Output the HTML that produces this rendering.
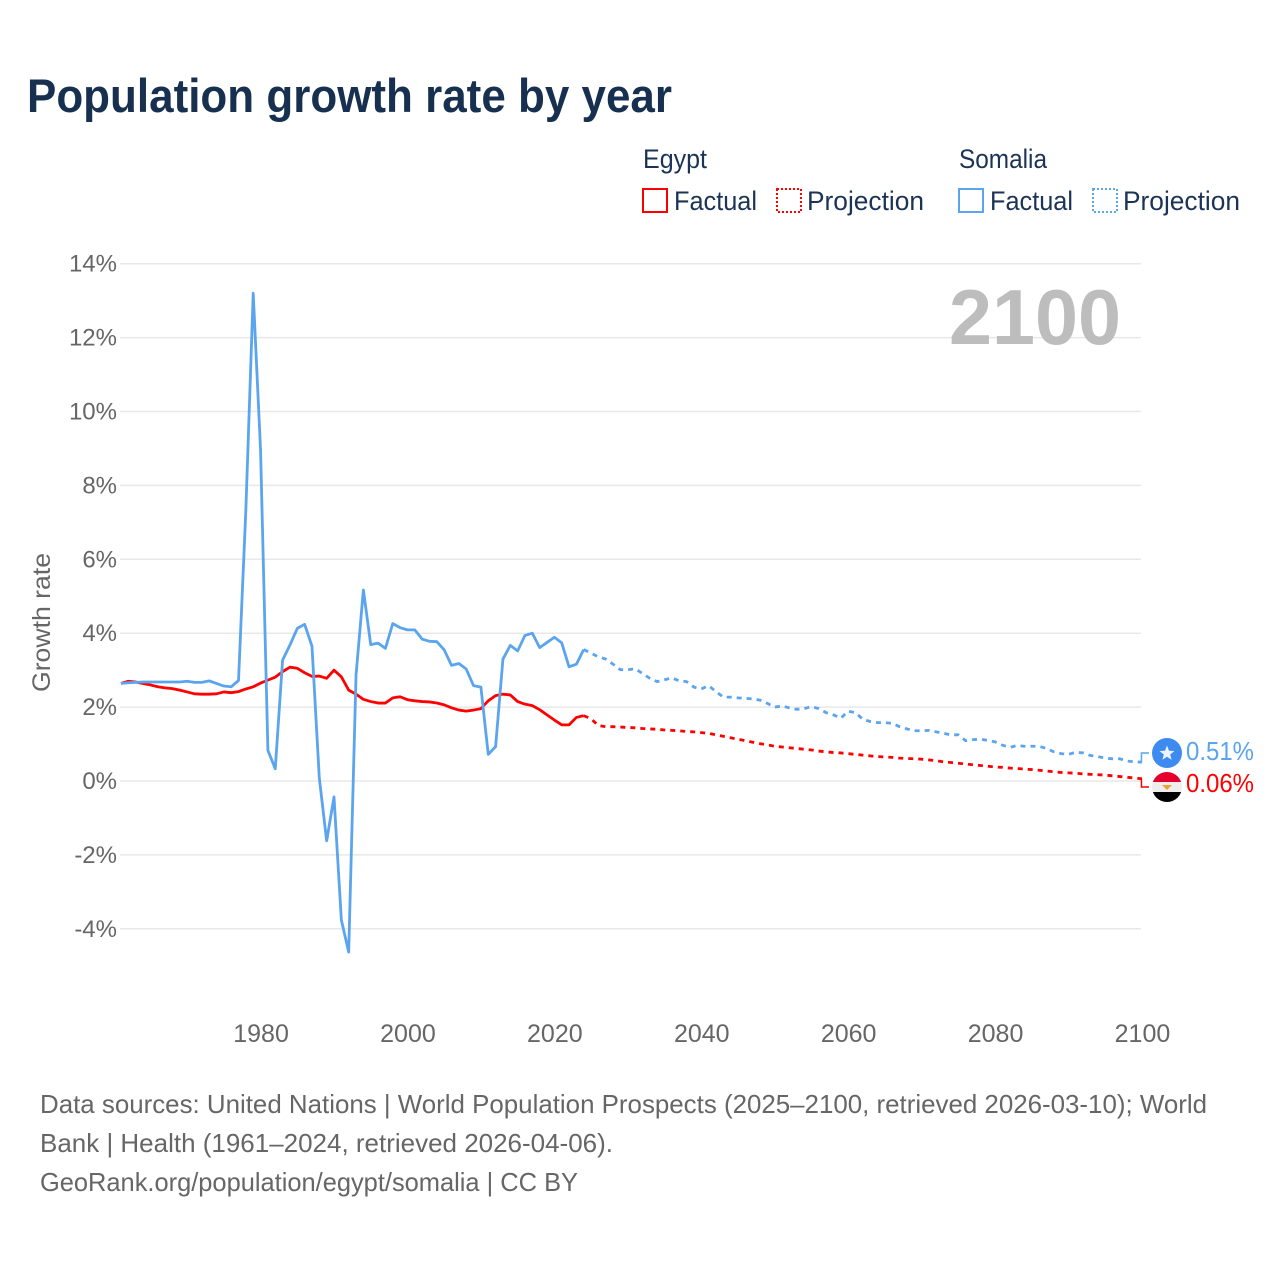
<!DOCTYPE html>
<html lang="en">
<head>
<meta charset="utf-8">
<title>Population growth rate by year</title>
<style>
html,body{margin:0;padding:0;background:#fff;}
svg{display:block;font-family:"Liberation Sans",sans-serif;}
</style>
</head>
<body>
<svg id="chart" xmlns="http://www.w3.org/2000/svg" width="1280" height="1280" viewBox="0 0 1280 1280">
  <rect width="1280" height="1280" fill="#fff"/>
  <text x="27" y="112" font-size="47" font-weight="700" fill="#17304f" textLength="645" lengthAdjust="spacingAndGlyphs">Population growth rate by year</text>

  <g font-size="27" fill="#1b3355">
    <text x="643" y="168" textLength="64" lengthAdjust="spacingAndGlyphs">Egypt</text>
    <text x="959" y="168" textLength="88" lengthAdjust="spacingAndGlyphs">Somalia</text>
    <g>
      <rect x="643" y="189" width="24" height="23" fill="none" stroke="#ff0000" stroke-width="2"/>
      <text x="674" y="210" textLength="83" lengthAdjust="spacingAndGlyphs">Factual</text>
    </g>
    <g>
      <rect x="777" y="189" width="24" height="23" fill="none" stroke="#ff0000" stroke-width="2" stroke-dasharray="2 2"/>
      <text x="807" y="210" textLength="117" lengthAdjust="spacingAndGlyphs">Projection</text>
    </g>
    <g>
      <rect x="959" y="189" width="24" height="23" fill="none" stroke="#5ba4ee" stroke-width="2"/>
      <text x="990" y="210" textLength="83" lengthAdjust="spacingAndGlyphs">Factual</text>
    </g>
    <g>
      <rect x="1093" y="189" width="24" height="23" fill="none" stroke="#5ba4ee" stroke-width="2" stroke-dasharray="2 2"/>
      <text x="1123" y="210" textLength="117" lengthAdjust="spacingAndGlyphs">Projection</text>
    </g>
  </g>

  <g id="grid"></g>
  <g id="yticks" font-size="24" fill="#666"></g>
  <g id="xticks" font-size="25" fill="#666"></g>
  <text transform="translate(50,692) rotate(-90)" font-size="25" fill="#666" textLength="139" lengthAdjust="spacingAndGlyphs">Growth rate</text>

  <text x="949" y="344" font-size="78" font-weight="700" fill="#bdbdbd" textLength="172" lengthAdjust="spacingAndGlyphs">2100</text>

  <g id="series"></g>

  <g>
    <path id="conn-somalia" fill="none" stroke="#5ba4ee" stroke-width="1.5"/>
    <path id="conn-egypt" fill="none" stroke="#ff0000" stroke-width="1.5"/>
    <g>
      <circle cx="1167" cy="753" r="15" fill="#3d8bf0"/>
      <polygon points="1167,745.5 1169,750.7 1174.5,751 1170.2,754.5 1171.6,759.8 1167,756.8 1162.4,759.8 1163.8,754.5 1159.5,751 1165,750.7" fill="#fff" fill-opacity="0.9"/>
    </g>
    <g>
      <clipPath id="egypt-clip"><circle cx="1167" cy="787" r="15"/></clipPath>
      <g clip-path="url(#egypt-clip)">
        <rect x="1152" y="772" width="30" height="10" fill="#e4002b"/>
        <rect x="1152" y="782" width="30" height="10" fill="#eeeeee"/>
        <rect x="1152" y="792" width="30" height="10" fill="#000"/>
        <polygon points="1162,785 1172,785 1167,790" fill="#f0a030"/>
      </g>
    </g>
    <text x="1186" y="760" font-size="26" fill="#5ba4ee" textLength="68" lengthAdjust="spacingAndGlyphs">0.51%</text>
    <text x="1186" y="792" font-size="26" fill="#ff0000" textLength="68" lengthAdjust="spacingAndGlyphs">0.06%</text>
  </g>

  <g font-size="26" fill="#666">
    <text x="40" y="1113" textLength="1167" lengthAdjust="spacingAndGlyphs">Data sources: United Nations | World Population Prospects (2025–2100, retrieved 2026-03-10); World</text>
    <text x="40" y="1152" textLength="573" lengthAdjust="spacingAndGlyphs">Bank | Health (1961–2024, retrieved 2026-04-06).</text>
    <text x="40" y="1191" textLength="538" lengthAdjust="spacingAndGlyphs">GeoRank.org/population/egypt/somalia | CC BY</text>
  </g>
</svg>
<script>
const startYear = 1961;
const lastFactualYear = 2024;
const yTickValues = [14, 12, 10, 8, 6, 4, 2, 0, -2, -4];
const xTickValues = [1980, 2000, 2020, 2040, 2060, 2080, 2100];

const egyptValues = [
  2.64,2.70,2.68,2.64,2.60,2.55,2.52,2.50,2.46,2.41,
  2.36,2.35,2.35,2.36,2.41,2.39,2.42,2.49,2.55,2.65,
  2.73,2.81,2.96,3.08,3.05,2.93,2.83,2.84,2.78,3.00,
  2.82,2.46,2.35,2.21,2.15,2.11,2.11,2.25,2.28,2.20,
  2.17,2.15,2.14,2.11,2.06,1.98,1.92,1.89,1.92,1.96,
  2.17,2.31,2.35,2.33,2.15,2.08,2.04,1.93,1.79,1.65,
  1.52,1.52,1.72,1.77,
  1.68,1.50,1.47,1.47,1.46,1.45,1.44,1.42,1.41,1.40,
  1.38,1.37,1.36,1.34,1.33,1.31,1.29,1.25,1.21,1.17,
  1.13,1.09,1.05,1.01,0.98,0.94,0.92,0.90,0.88,0.86,
  0.84,0.81,0.79,0.77,0.76,0.74,0.72,0.70,0.68,0.66,
  0.65,0.64,0.62,0.61,0.60,0.59,0.57,0.55,0.52,0.50,
  0.48,0.46,0.44,0.42,0.40,0.38,0.37,0.35,0.34,0.32,
  0.31,0.29,0.27,0.25,0.23,0.22,0.21,0.19,0.18,0.17,
  0.16,0.14,0.12,0.10,0.08,0.06
];

const somaliaValues = [
  2.64,2.66,2.67,2.68,2.68,2.68,2.68,2.68,2.68,2.70,
  2.67,2.67,2.71,2.64,2.57,2.55,2.72,7.35,13.20,8.96,
  0.83,0.33,3.27,3.68,4.13,4.24,3.65,0.08,-1.62,-0.43,
  -3.76,-4.63,2.87,5.17,3.69,3.73,3.59,4.26,4.15,4.09,
  4.09,3.84,3.78,3.77,3.55,3.13,3.18,3.03,2.58,2.54,
  0.72,0.93,3.30,3.67,3.52,3.94,4.00,3.61,3.75,3.89,
  3.74,3.09,3.16,3.56,
  3.46,3.36,3.30,3.16,3.01,3.01,3.04,2.91,2.78,2.69,
  2.74,2.79,2.71,2.69,2.54,2.49,2.58,2.42,2.27,2.27,
  2.25,2.24,2.22,2.19,2.10,2.00,2.03,1.98,1.94,1.96,
  2.01,1.96,1.85,1.79,1.70,1.89,1.85,1.67,1.61,1.58,
  1.58,1.56,1.47,1.41,1.36,1.36,1.37,1.33,1.29,1.25,
  1.25,1.09,1.12,1.13,1.10,1.06,0.97,0.91,0.96,0.94,
  0.94,0.94,0.88,0.79,0.74,0.72,0.78,0.76,0.69,0.66,
  0.62,0.60,0.60,0.54,0.52,0.51
];

const NS = 'http://www.w3.org/2000/svg';
function xScale(year) { return 121 + (year - 1961) * 7.345; }
function yScale(v) { return 781 - v * 36.95; }

const gridGroup = document.getElementById('grid');
const yGroup = document.getElementById('yticks');
yTickValues.forEach(function (v) {
  const line = document.createElementNS(NS, 'line');
  line.setAttribute('x1', 120);
  line.setAttribute('x2', 1141);
  line.setAttribute('y1', yScale(v));
  line.setAttribute('y2', yScale(v));
  line.setAttribute('stroke', '#e8e8e8');
  line.setAttribute('stroke-width', '1.5');
  
  
  gridGroup.appendChild(line);

  const label = document.createElementNS(NS, 'text');
  label.setAttribute('x', 117);
  label.setAttribute('y', yScale(v) + 8);
  label.setAttribute('text-anchor', 'end');
  label.textContent = v + '%';
  
  
  yGroup.appendChild(label);
});

const xGroup = document.getElementById('xticks');
xTickValues.forEach(function (year) {
  const label = document.createElementNS(NS, 'text');
  label.setAttribute('x', xScale(year) + 0.5);
  label.setAttribute('y', 1042);
  label.setAttribute('text-anchor', 'middle');
  label.textContent = year;
  
  
  xGroup.appendChild(label);
});

function linePath(values, fromYear, toYear) {
  const parts = [];
  for (let year = fromYear; year <= toYear; year++) {
    const v = values[year - startYear];
    parts.push((parts.length ? 'L' : 'M') + xScale(year).toFixed(2) + ' ' + yScale(v).toFixed(2));
  }
  return parts.join(' ');
}

const seriesGroup = document.getElementById('series');
function addLine(values, colour, fromYear, toYear, dashed, name) {
  const path = document.createElementNS(NS, 'path');
  path.setAttribute('d', linePath(values, fromYear, toYear));
  path.setAttribute('fill', 'none');
  path.setAttribute('stroke', colour);
  path.setAttribute('stroke-width', '2.8');
  path.setAttribute('stroke-linejoin', 'round');
  if (dashed) path.setAttribute('stroke-dasharray', '5 5');
  
  
  seriesGroup.appendChild(path);
}
const endYear = startYear + egyptValues.length - 1;
addLine(egyptValues, '#ff0000', startYear, lastFactualYear, false, 'egypt-factual-line');
addLine(egyptValues, '#ff0000', lastFactualYear, endYear, true, 'egypt-projection-line');
addLine(somaliaValues, '#5ba4ee', startYear, lastFactualYear, false, 'somalia-factual-line');
addLine(somaliaValues, '#5ba4ee', lastFactualYear, endYear, true, 'somalia-projection-line');

const endX = xScale(endYear) - 0.5;
document.getElementById('conn-somalia').setAttribute('d',
  'M' + endX + ' ' + yScale(somaliaValues[somaliaValues.length - 1]) + ' V753 H1149');
document.getElementById('conn-egypt').setAttribute('d',
  'M' + endX + ' ' + yScale(egyptValues[egyptValues.length - 1]) + ' V787 H1149');
</script>
</body>
</html>
